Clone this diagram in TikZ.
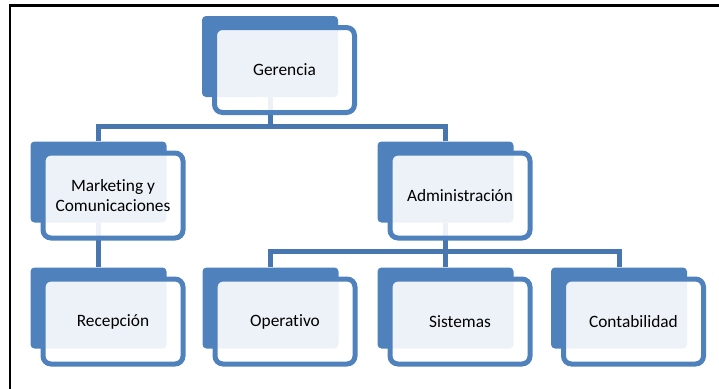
\documentclass[tikz,border=0pt]{standalone}
\usepackage{fontspec}
\setmainfont{Carlito}[Ligatures=NoCommon]
\usetikzlibrary{backgrounds}
\definecolor{azul}{RGB}{79,129,189}
\definecolor{linea}{RGB}{72,118,174}
\tikzset{
  fondo/.style={fill=azul, rounded corners=3pt, minimum width=102pt,
    minimum height=60.75pt, inner sep=0pt},
  frente/.style={draw=azul, line width=3.75pt, fill=white, fill opacity=0.9,
    text opacity=1, rounded corners=6pt, minimum width=105pt,
    minimum height=63.75pt, inner sep=0pt, align=center,
    font=\fontsize{13}{14.5}\selectfont},
  conector/.style={draw=linea, line width=3.75pt}
}

\def\caja#1#2#3#4{%
  \draw (#2-14.5,#3-13.5) node[fondo] (#1) {};
  \draw (#2,#3) node[frente] (#1-f) {#4};
}

\begin{document}
\begin{tikzpicture}[x=0.75pt,y=-0.75pt]
\useasboundingbox (0,0) rectangle (719,389);
\draw[line width=1.5pt] (9.5,389) -- (9.5,5.5) -- (719,5.5);
\caja{gerencia}{284.5}{70}{Gerencia}
\caja{marketing}{113}{195.5}{Marketing y\\Comunicaciones}
\caja{administracion}{460}{195.5}{Administración}
\caja{recepcion}{113}{321.5}{Recepción}
\caja{operativo}{285}{321.5}{Operativo}
\caja{sistemas}{460}{321.5}{Sistemas}
\caja{contabilidad}{633.5}{321.5}{Contabilidad}
\begin{scope}[on background layer]
\draw[conector] (gerencia.south) -- ++(0,29) -| (marketing.north);
\draw[conector] (gerencia.south) ++(0,29) -| (administracion.north);
\draw[conector] (marketing.south) -- (recepcion.north);
\draw[conector] (administracion.south) -- ++(0,28.5) -| (operativo.north);
\draw[conector] (administracion.south) ++(0,28.5) -| (contabilidad.north);
\draw[conector] (administracion.south) -- (sistemas.north);
\end{scope}
\end{tikzpicture}
\end{document}
